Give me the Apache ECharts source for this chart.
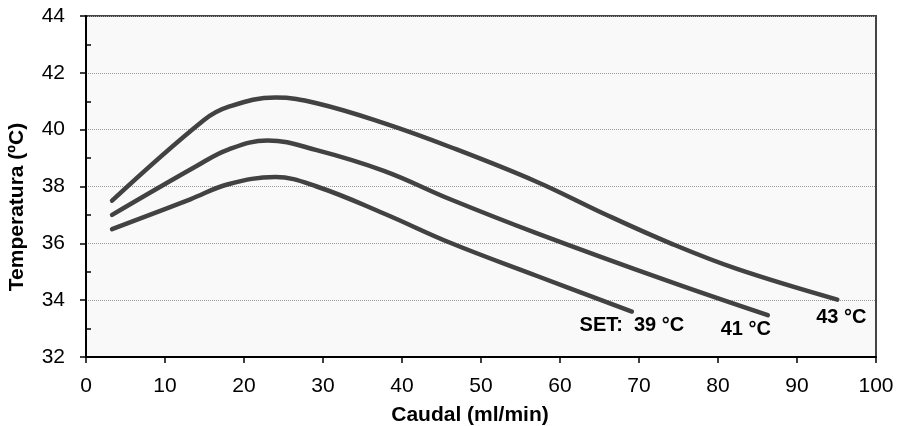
<!DOCTYPE html>
<html>
<head>
<meta charset="utf-8">
<script src="https://cdn.jsdelivr.net/npm/echarts@6/dist/echarts.min.js"></script>
<style>
  html, body { margin: 0; padding: 0; background: #fff; }
  #chart { width: 898px; height: 426px; }
</style>
</head>
<body>
<div id="chart"></div>
<script>
// curves: [caudal ml/min, temperatura ºC]
var set39 = [[3.3, 36.5], [13.2, 37.55], [18, 38.08], [24, 38.33], [29.2, 38.0], [37.7, 37.05],
  [46.1, 36.02], [57.1, 34.85], [69.1, 33.6]];
var set41 = [[3.3, 37.0], [14, 38.72], [18, 39.3], [23, 39.62], [29.2, 39.28], [37.7, 38.55],
  [46.1, 37.55], [57.1, 36.35], [74, 34.64], [86.3, 33.47]];
var set43 = [[3.3, 37.5], [14.9, 40.33], [18, 40.8], [24, 41.13], [29.2, 40.93], [37.7, 40.23],
  [46.1, 39.39], [57.1, 38.16], [65.5, 37.05], [74, 36.0], [82.4, 35.1], [95.1, 34.02]];

var curveLabels = ['SET:  39 °C', '41 °C', '43 °C'];
var minorTicks = [33, 35, 37, 39, 41, 43];

var font = '"Liberation Sans", Arial, sans-serif';
var lineColor = '#424242';

var dom = document.getElementById('chart');
var myChart = echarts.init(dom);

function curve(data, label, offset) {
  var last = data[data.length - 1];
  return {
    type: 'line',
    data: data,
    smooth: 0.4,
    showSymbol: false,
    silent: true,
    lineStyle: { color: lineColor, width: 4.5, cap: 'round', join: 'round' },
    markPoint: {
      symbol: 'circle',
      symbolSize: 0,
      silent: true,
      label: {
        show: true,
        position: 'inside',
        offset: offset,
        formatter: label,
        color: '#000',
        fontFamily: font,
        fontWeight: 'bold',
        fontSize: 20
      },
      data: [{ coord: last }]
    }
  };
}

var option = {
  animation: false,
  grid: {
    left: 86, right: 22, top: 16, bottom: 69,
    show: true,
    backgroundColor: '#f9f9f9',
    borderColor: '#444',
    borderWidth: 2
  },
  xAxis: {
    type: 'value',
    min: 0, max: 100, interval: 10,
    axisLine: { show: true, lineStyle: { color: '#000', width: 2 } },
    axisTick: { show: true, length: 6, lineStyle: { color: '#000', width: 1.5 } },
    axisLabel: { color: '#000', fontFamily: font, fontSize: 21, margin: 19 },
    splitLine: { show: false }
  },
  yAxis: [{
    type: 'value',
    min: 32, max: 44, interval: 2,
    axisLine: { show: true, lineStyle: { color: '#000', width: 2 } },
    axisTick: { show: true, length: 6, lineStyle: { color: '#000', width: 1.5 } },
    axisLabel: { color: '#000', fontFamily: font, fontSize: 21, margin: 21 },
    splitLine: { show: true, lineStyle: { color: '#9a9a9a', type: 'dotted', width: 1 } }
  }, {
    // odd-value ticks drawn inside the plot
    type: 'value',
    position: 'left',
    min: 32, max: 44, interval: 1,
    axisLine: { show: false },
    axisTick: { show: true, inside: true, length: 5, customValues: minorTicks,
      lineStyle: { color: '#000', width: 1.5 } },
    axisLabel: { show: false },
    splitLine: { show: false }
  }],
  graphic: [{
    type: 'text',
    x: 470, y: 415,
    style: {
      text: 'Caudal (ml/min)', fill: '#000', font: 'bold 21px ' + font,
      textAlign: 'center', textVerticalAlign: 'middle'
    }
  }, {
    type: 'text',
    x: 17.5, y: 207,
    rotation: Math.PI / 2,
    style: {
      text: 'Temperatura (ºC)', fill: '#000', font: 'bold 21px ' + font,
      textAlign: 'center', textVerticalAlign: 'middle'
    }
  }],
  series: [
    curve(set39, curveLabels[0], [0, 14]),
    curve(set41, curveLabels[1], [-22, 14]),
    curve(set43, curveLabels[2], [4, 18])
  ]
};

myChart.setOption(option);
</script>
</body>
</html>
